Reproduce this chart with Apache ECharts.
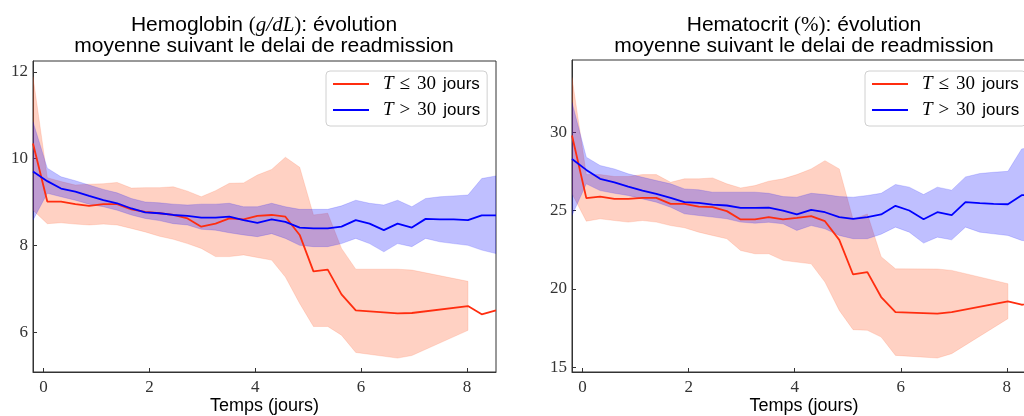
<!DOCTYPE html>
<html>
<head>
<meta charset="utf-8">
<script src="https://cdn.jsdelivr.net/npm/echarts@6/dist/echarts.min.js"></script>
<style>
  html, body { margin: 0; padding: 0; background: #fff; }
  #chart { width: 1024px; height: 416px; }
</style>
</head>
<body>
<div id="chart"></div>
<script>
// time since admission (days), one point per bin
const times = [-0.2, 0.07, 0.33, 0.6, 0.86, 1.13, 1.39, 1.66, 1.92, 2.19, 2.45, 2.72, 2.98, 3.25, 3.51, 3.78, 4.04,
  4.31, 4.57, 4.84, 5.1, 5.37, 5.63, 5.9, 6.16, 6.43, 6.69, 6.96, 7.22, 7.49, 7.75, 8.02, 8.28, 8.55];

// Hemoglobin, T <= 30 jours
const hbRedMean = [10.35, 9.01, 9.01, 8.95, 8.91, 8.95, 8.95, 8.83, 8.77, 8.74, 8.70, 8.62, 8.43, 8.50, 8.62, 8.60, 8.68,
  8.70, 8.66, 8.24, 7.40, 7.44, 6.87, 6.50, null, null, 6.43, 6.44, null, null, null, 6.60, 6.41, 6.50];
const hbRedHigh = [11.89, 9.56, 9.47, 9.39, 9.41, 9.42, 9.45, 9.32, 9.33, 9.33, 9.35, 9.25, 9.12, 9.26, 9.43, 9.44, 9.62,
  9.75, 10.03, 9.80, 8.70, 8.74, 7.93, 7.45, null, null, 7.45, 7.43, null, null, null, 7.17, null, null];
const hbRedLow = [8.81, 8.50, 8.52, 8.49, 8.47, 8.49, 8.47, 8.39, 8.31, 8.21, 8.14, 8.04, 7.93, 7.74, 7.74, 7.78, 7.72,
  7.66, 7.27, 6.66, 6.13, 6.13, 5.93, 5.53, null, null, 5.40, 5.46, null, null, null, 6.04, null, null];

// Hemoglobin, T > 30 jours
const hbBlueMean = [9.70, 9.48, 9.31, 9.24, 9.14, 9.04, 8.97, 8.85, 8.76, 8.74, 8.70, 8.68, 8.64, 8.64, 8.66, 8.58, 8.52,
  8.60, 8.54, 8.41, 8.39, 8.39, 8.43, 8.58, 8.50, 8.35, 8.50, 8.41, 8.61, 8.60, 8.60, 8.58, 8.69, 8.69];
const hbBlueHigh = [10.85, 9.78, 9.58, 9.49, 9.39, 9.29, 9.21, 9.08, 9.00, 8.98, 8.95, 8.93, 8.95, 8.95, 8.97, 8.89, 8.89,
  8.97, 8.89, 8.83, 8.83, 8.83, 8.91, 9.04, 8.97, 8.93, 9.04, 8.89, 9.08, 9.12, 9.14, 9.16, 9.54, 9.60];
const hbBlueLow = [8.58, 9.20, 9.12, 9.04, 8.95, 8.89, 8.81, 8.70, 8.62, 8.57, 8.50, 8.47, 8.37, 8.35, 8.29, 8.24, 8.20,
  8.27, 8.16, 8.00, 7.97, 7.97, 8.04, 8.16, 8.04, 7.85, 8.04, 7.97, 8.16, 8.08, 8.04, 8.00, 7.89, 7.81];

// Hematocrit, T <= 30 jours
const htRedMean = [29.78, 25.79, 25.89, 25.74, 25.74, 25.81, 25.81, 25.42, 25.42, 25.25, 25.21, 24.96, 24.43, 24.43, 24.58,
  24.43, 24.53, 24.64, 24.32, 23.13, 20.92, 21.07, 19.48, 18.52, null, null, 18.42, 18.52, null, null, null, 19.20, 18.99, 19.15];
const htRedHigh = [33.49, 27.29, 27.29, 27.17, 27.17, 27.29, 27.29, 26.80, 27.02, 27.02, 27.08, 26.70, 26.44, 26.59, 26.87,
  27.02, 27.29, 27.65, 28.18, 27.65, 24.44, 24.78, 22.05, 21.28, null, null, 21.27, 21.18, null, null, null, 20.33, null, null];
const htRedLow = [26.07, 24.32, 24.47, 24.36, 24.26, 24.36, 24.26, 24.04, 23.90, 23.62, 23.41, 23.20, 22.45, 22.24, 22.24,
  21.82, 21.71, 21.60, 20.44, 18.63, 17.40, 17.36, 16.93, 15.76, null, null, 15.59, 15.87, null, null, null, 18.10, null, null];

// Hematocrit, T > 30 jours
const htBlueMean = [28.29, 27.59, 27.02, 26.80, 26.53, 26.27, 26.06, 25.81, 25.53, 25.49, 25.38, 25.32, 25.17, 25.17, 25.18,
  25.00, 24.75, 25.04, 24.89, 24.58, 24.47, 24.58, 24.75, 25.30, 25.00, 24.44, 24.89, 24.71, 25.54, 25.47, 25.42, 25.40, 25.98, 26.02];
const htBlueHigh = [31.90, 28.40, 27.87, 27.65, 27.34, 27.12, 26.91, 26.70, 26.38, 26.32, 26.17, 26.17, 26.17, 26.17, 26.10,
  25.89, 25.85, 26.10, 26.02, 25.89, 25.85, 25.96, 26.10, 26.66, 26.49, 26.02, 26.49, 26.30, 27.14, 27.36, 27.44, 27.50, 28.93, 29.05];
const htBlueLow = [24.68, 26.70, 26.27, 26.10, 25.96, 25.74, 25.53, 25.21, 24.79, 24.68, 24.58, 24.47, 24.26, 24.19, 24.25,
  24.15, 23.73, 24.04, 23.83, 23.41, 23.20, 23.20, 23.49, 23.94, 23.62, 22.92, 23.30, 23.13, 23.94, 23.62, 23.51, 23.41, 23.09, 23.00];

const xTicks = [0, 2, 4, 6, 8];
const hbTicks = [6, 8, 10, 12];
const htTicks = [15, 20, 25, 30];

const nameLe = 'T ≤ 30 jours';
const nameGt = 'T > 30 jours';

const RED = '#ff2d0f';
const BLUE = '#0000ff';
const SANS = 'Liberation Sans, Arial, sans-serif';
const SERIF = 'Liberation Serif, DejaVu Serif, serif';

let chart = echarts.init(document.getElementById('chart'));

// shaded band between low and high, drawn as one polygon through the axis scales
function band(lo, hi, color, idx) {
    let pts = [];
    times.forEach(function (t, i) {
        if (lo[i] != null && hi[i] != null) pts.push([t, lo[i], hi[i]]);
    });
    return {
        type: 'custom',
        xAxisIndex: idx,
        yAxisIndex: idx,
        silent: true,
        clip: true,
        data: pts,
        encode: {x: 0, y: [1, 2]},
        renderItem: function (params, api) {
            if (params.dataIndex !== 0) return;
            let top = pts.map(function (p) { return api.coord([p[0], p[2]]); });
            let bot = pts.map(function (p) { return api.coord([p[0], p[1]]); }).reverse();
            return {
                type: 'polygon',
                shape: {points: top.concat(bot)},
                style: {fill: color, stroke: color, lineWidth: 0.6}
            };
        }
    };
}

function meanLine(name, vals, color, idx) {
    return {
        name: name,
        type: 'line',
        xAxisIndex: idx,
        yAxisIndex: idx,
        data: times.map(function (t, i) { return [t, vals[i]]; }),
        connectNulls: true,
        symbol: 'none',
        showSymbol: false,
        clip: true,
        color: color,
        lineStyle: {color: color, width: 1.8}
    };
}

function xAxisOpt(idx) {
    return {
        type: 'value',
        gridIndex: idx,
        min: -0.2,
        max: 8.55,
        name: 'Temps (jours)',
        nameLocation: 'middle',
        nameGap: 25,
        nameMoveOverlap: false,
        nameTextStyle: {fontFamily: SANS, fontSize: 18, color: '#000'},
        axisLine: {onZero: false, lineStyle: {color: '#333', width: 1}},
        axisTick: {inside: true, length: 4, customValues: xTicks, lineStyle: {color: '#333'}},
        axisLabel: {customValues: xTicks, margin: 7, fontFamily: SERIF, fontSize: 17, color: '#333'},
        splitLine: {show: false}
    };
}

function yAxisOpt(idx, min, max, ticks) {
    return {
        type: 'value',
        gridIndex: idx,
        min: min,
        max: max,
        axisLine: {show: true, onZero: false, lineStyle: {color: '#333', width: 1}},
        axisTick: {show: true, inside: true, length: 4, customValues: ticks, lineStyle: {color: '#333'}},
        axisLabel: {customValues: ticks, margin: 5, fontFamily: SERIF, fontSize: 17, color: '#333'},
        splitLine: {show: false}
    };
}

function legendOpt(left) {
    return {
        data: [nameLe, nameGt],
        orient: 'vertical',
        left: left,
        top: 71,
        icon: 'rect',
        itemWidth: 36,
        itemHeight: 2,
        itemGap: 6,
        padding: [3, 7, 6, 7],
        backgroundColor: 'rgba(255,255,255,0.85)',
        borderColor: '#d0d0d0',
        borderWidth: 1,
        borderRadius: 4,
        formatter: function (name) {
            return name === nameLe ? '{i|T}{r|≤}{n|30}{s|jours}' : '{i|T}{r|>}{n|30}{s|jours}';
        },
        textStyle: {
            fontSize: 17,
            lineHeight: 20,
            rich: {
                i: {fontFamily: SERIF, fontStyle: 'italic', fontSize: 19, color: '#000', padding: [0, 0, 0, 9]},
                r: {fontFamily: SERIF, fontSize: 19, color: '#000', padding: [0, 0, 0, 6]},
                n: {fontFamily: SERIF, fontSize: 19, color: '#000', padding: [0, 0, 0, 7]},
                s: {fontFamily: SANS, fontSize: 17, color: '#000', padding: [0, 0, 0, 7]}
            }
        }
    };
}

function titleText(x, first) {
    return {
        type: 'text',
        x: x,
        y: 15,
        silent: true,
        style: {
            text: first + '\n{s|moyenne suivant le delai de readmission}',
            align: 'center',
            verticalAlign: 'top',
            rich: {
                s: {fontFamily: SANS, fontSize: 21, lineHeight: 21, fill: '#000'},
                m: {fontFamily: SERIF, fontSize: 21, lineHeight: 21, fill: '#000'},
                i: {fontFamily: SERIF, fontStyle: 'italic', fontSize: 21, lineHeight: 21, fill: '#000'}
            }
        }
    };
}

let option = {
    animation: false,
    backgroundColor: '#fff',
    grid: [
        {left: 33, top: 61, width: 463, height: 311, outerBoundsMode: 'none', containLabel: false,
            show: true, borderColor: '#333', borderWidth: 1, backgroundColor: 'transparent'},
        {left: 572, top: 60, width: 464, height: 312, outerBoundsMode: 'none', containLabel: false,
            show: true, borderColor: '#333', borderWidth: 1, backgroundColor: 'transparent'}
    ],
    xAxis: [xAxisOpt(0), xAxisOpt(1)],
    yAxis: [yAxisOpt(0, 5.08, 12.25, hbTicks), yAxisOpt(1, 14.7, 34.6, htTicks)],
    legend: [legendOpt(326), legendOpt(865)],
    graphic: [
        titleText(264, '{s|Hemoglobin }{m|(}{i|g/dL}{m|)}{s|: évolution}'),
        titleText(804, '{s|Hematocrit }{m|(%)}{s|: évolution}')
    ],
    series: [
        band(hbRedLow, hbRedHigh, 'rgba(255,90,40,0.28)', 0),
        band(hbBlueLow, hbBlueHigh, 'rgba(0,0,255,0.25)', 0),
        meanLine(nameLe, hbRedMean, RED, 0),
        meanLine(nameGt, hbBlueMean, BLUE, 0),
        band(htRedLow, htRedHigh, 'rgba(255,90,40,0.28)', 1),
        band(htBlueLow, htBlueHigh, 'rgba(0,0,255,0.25)', 1),
        meanLine(nameLe, htRedMean, RED, 1),
        meanLine(nameGt, htBlueMean, BLUE, 1)
    ]
};

chart.setOption(option);
</script>
</body>
</html>
